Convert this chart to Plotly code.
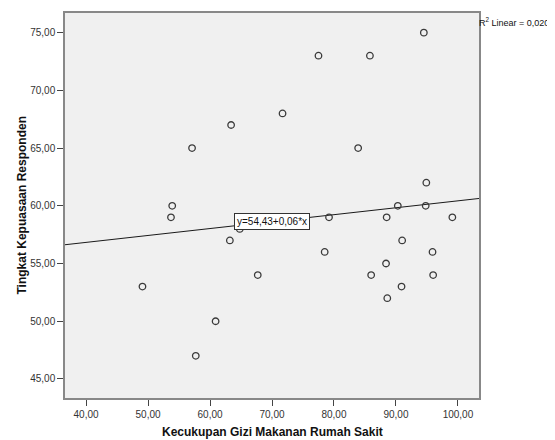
import plotly.graph_objects as go
import numpy as np

# Data
gizi = [49.1, 53.9, 53.7, 57.1, 57.7, 60.9, 63.4, 63.2, 64.8, 67.7, 71.7,
        77.5, 78.5, 79.2, 83.9, 85.8, 86.0, 88.5, 88.4, 88.6, 90.3, 91.0,
        90.9, 94.5, 94.9, 94.8, 95.9, 96.0, 99.1]
kepuasan = [53, 60, 59, 65, 47, 50, 67, 57, 58, 54, 68,
            73, 56, 59, 65, 73, 54, 59, 55, 52, 60, 57,
            53, 75, 62, 60, 56, 54, 59]

intercept = 54.43
slope = 0.06
r2_text = "R<sup>2</sup> Linear = 0,020"
eq_text = "y=54,43+0,06*x"
x_title = "Kecukupan Gizi Makanan Rumah Sakit"
y_title = "Tingkat Kepuasaan Responden"
x_range = [36.6, 103.4]
y_range = [43.35, 76.7]
x_ticks = [40, 50, 60, 70, 80, 90, 100]
y_ticks = [45, 50, 55, 60, 65, 70, 75]
eq_x = 70

line_x = np.array(x_range)
line_y = intercept + slope * line_x

fig = go.Figure()
fig.add_trace(go.Scatter(x=line_x, y=line_y, mode="lines",
                         line=dict(color="#1a1a1a", width=1), hoverinfo="skip"))
fig.add_trace(go.Scatter(x=gizi, y=kepuasan, mode="markers",
                         marker=dict(symbol="circle-open", size=6.5,
                                     color="#3a3a3a", line=dict(width=1.3))))

fig.add_annotation(x=eq_x, y=intercept + slope * eq_x, text=eq_text,
                   showarrow=False, font=dict(family="Liberation Sans", size=10, color="#111"),
                   bgcolor="white", bordercolor="#333", borderwidth=1, borderpad=2)
fig.add_annotation(xref="paper", yref="paper", x=1.0, y=1.0, xanchor="left", yanchor="top",
                   text=r2_text, showarrow=False, xshift=-2, yshift=-1,
                   font=dict(family="Liberation Sans", size=9, color="#111"))

title_font = dict(family="Liberation Sans", size=12, color="#111", weight="bold")
fig.add_annotation(xref="paper", yref="paper", x=0.5, y=0, xanchor="center", yanchor="middle",
                   yshift=-34, text=x_title, showarrow=False, font=title_font)
fig.add_annotation(xref="paper", yref="paper", x=0, y=0.5, xanchor="center", yanchor="middle",
                   xshift=-44, textangle=-90, text=y_title, showarrow=False, font=title_font)

axis_common = dict(showline=True, mirror=True, linecolor="#888", linewidth=1.5,
                   ticks="outside", ticklen=6, tickcolor="#444", showgrid=False, zeroline=False,
                   tickfont=dict(family="Liberation Sans", size=10, color="#333"),
                   tickformat=".2f")

fig.update_layout(
    width=547, height=432,
    margin=dict(l=57, r=76, t=3, b=42),
    plot_bgcolor="#F0F0F0", paper_bgcolor="white",
    showlegend=False, separators=",.",
    xaxis=dict(range=x_range, tickvals=x_ticks, **axis_common),
    yaxis=dict(range=y_range, tickvals=y_ticks, **axis_common),
)

fig.write_html("out.html")
